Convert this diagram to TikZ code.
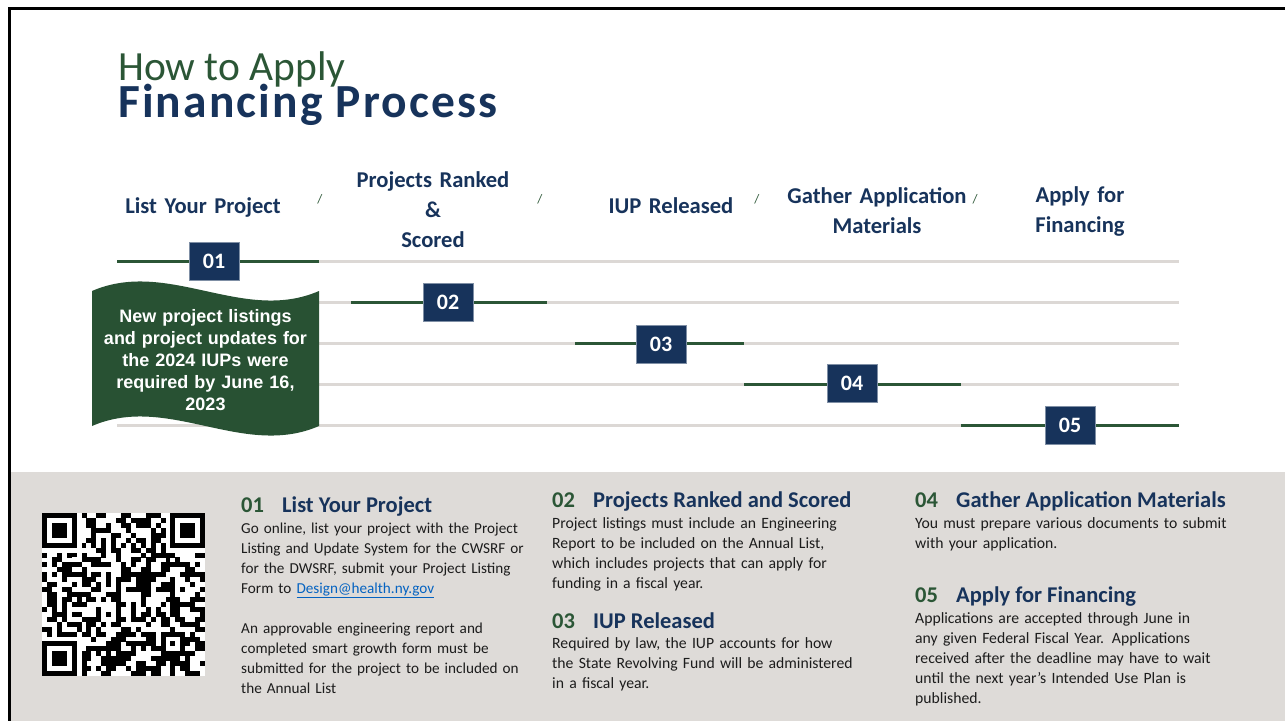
\documentclass[tikz,border=0pt]{standalone}
\usepackage{fontspec}
\setmainfont{Carlito}
\newfontfamily\arialfont{Liberation Sans}
\newfontfamily\titlefont[LetterSpace=4.5]{Carlito}
\definecolor{NavyClr}{HTML}{17335B}
\definecolor{GreenClr}{HTML}{2B5636}
\definecolor{WaveClr}{HTML}{285133}
\definecolor{PanelClr}{HTML}{DEDBD8}
\definecolor{RuleClr}{HTML}{DCD8D5}
\definecolor{LinkClr}{HTML}{0563C1}
\definecolor{BodyClr}{HTML}{1C1C1C}

\tikzset{
  steplabel/.style={inner sep=0pt, text=NavyClr, align=center, text width=230pt,
    font=\bfseries\fontsize{22.6}{30}\selectfont},
  stepbox/.style={fill=NavyClr, draw=NavyClr!55!white, line width=0.6pt, text=white,
    minimum width=50pt, minimum height=38pt, inner sep=0pt,
    font=\bfseries\fontsize{22}{22}\selectfont},
  stepline/.style={GreenClr, line width=3pt},
  rule/.style={RuleClr, line width=3pt},
  slash/.style={inner sep=0pt, text=GreenClr, font=\fontsize{13}{13}\selectfont},
  infohead/.style={inner sep=0pt, anchor=base west, text=NavyClr,
    font=\bfseries\fontsize{22.5}{22.5}\selectfont},
  infotext/.style={inner sep=0pt, anchor=base west, text=BodyClr, align=left,
    text width=340pt, font=\fontsize{15.7}{20}\selectfont}
}
\newcommand{\stepno}[1]{\makebox[41pt][l]{\textcolor{GreenClr}{#1}}}

\begin{document}
\begin{tikzpicture}[x=1pt,y=-1pt]
\useasboundingbox (0,0) rectangle (1285,721);
\fill[white] (0,0) rectangle (1285,721);
\fill[PanelClr] (10,472) rectangle (1285,721);
\draw[black, line width=2.4pt] (1285,8.5) -- (9.5,8.5) -- (9.5,721);

% title
\node[inner sep=0pt, anchor=base west, text=GreenClr, font=\fontsize{41.5}{41.5}\selectfont]
  (howto) at (118,80) {How to Apply};
\node[inner sep=0pt, anchor=base west, text=NavyClr, font=\titlefont\bfseries\fontsize{47.5}{47.5}\selectfont]
  (title) at (118,117) {Financing Process};

% step headings
\node[steplabel, anchor=base] (l1) at (203,213) {List Your Project};
\node[steplabel, anchor=base] (l2) at (433,187) {Projects Ranked\\\&\\Scored};
\node[steplabel, anchor=base] (l3) at (671,213) {IUP Released};
\node[steplabel, anchor=base] (l4) at (877,203) {Gather Application\\Materials};
\node[steplabel, anchor=base] (l5) at (1080,202) {Apply for\\Financing};
\foreach \n/\x in {1/320,2/540,3/757,4/975}
  \node[slash] (sl\n) at (\x,199) {/};

% timeline rows
\foreach \r/\y/\xa/\xb in {1/261/117/319,2/302/351/547,3/343/575/744,4/384/744/961,5/425/961/1179}{
  \coordinate (r\r w) at (117,\y);
  \coordinate (r\r e) at (1179,\y);
  \coordinate (g\r w) at (\xa,\y);
  \coordinate (g\r e) at (\xb,\y);
}
\foreach \r in {1,...,5}{
  \draw[rule] (r\r w) -- (r\r e);
  \draw[stepline] (g\r w) -- (g\r e);
}
\node[stepbox] (b1) at (214,261.5) {01};
\node[stepbox] (b2) at (448,302.5) {02};
\node[stepbox] (b3) at (661,344) {03};
\node[stepbox] (b4) at (852,383.5) {04};
\node[stepbox] (b5) at (1070,425.5) {05};

% deadline banner
\fill[WaveClr] (92,291) .. controls (168,258) and (243,324) .. (319,291)
  -- (319,426) .. controls (243,459) and (168,393) .. (92,426) -- cycle;
\node[inner sep=0pt, anchor=base, text=white, align=center, text width=225pt,
  font=\arialfont\bfseries\fontsize{18}{22}\selectfont] (note) at (205.5,322)
  {New project listings\\and project updates for\\the 2024 IUPs were\\required by June 16,\\2023};

% qr code
\pgfmathsetseed{4242}
\def\qrm{4.94}
\fill[white] (42,513) rectangle (205,676);
\foreach \i in {0,...,32}{
  \foreach \j in {0,...,32}{
    \pgfmathtruncatemacro\qrres{(\i<8 && \j<8) || (\i>24 && \j<8) || (\i<8 && \j>24) || (\i>23 && \i<29 && \j>23 && \j<29) || \i==6 || \j==6}
    \pgfmathrandominteger\qrbit{0}{1}
    \ifnum\qrres=0 \ifnum\qrbit=1
      \fill[black] (42+\i*\qrm,513+\j*\qrm) rectangle ++(\qrm+0.05,\qrm+0.05);
    \fi\fi
  }
}
\foreach \fx/\fy in {0/0,26/0,0/26}{
  \fill[black] (42+\fx*\qrm,513+\fy*\qrm) rectangle ++(7*\qrm,7*\qrm);
  \fill[white] (42+\fx*\qrm+\qrm,513+\fy*\qrm+\qrm) rectangle ++(5*\qrm,5*\qrm);
  \fill[black] (42+\fx*\qrm+2*\qrm,513+\fy*\qrm+2*\qrm) rectangle ++(3*\qrm,3*\qrm);
}
\fill[black] (42+24*\qrm,513+24*\qrm) rectangle ++(5*\qrm,5*\qrm);
\fill[white] (42+25*\qrm,513+25*\qrm) rectangle ++(3*\qrm,3*\qrm);
\fill[black] (42+26*\qrm,513+26*\qrm) rectangle ++(\qrm,\qrm);
\foreach \k in {8,10,...,24}{
  \fill[black] (42+\k*\qrm,513+6*\qrm) rectangle ++(\qrm,\qrm);
  \fill[black] (42+6*\qrm,513+\k*\qrm) rectangle ++(\qrm,\qrm);
}

% step details
\node[infohead] (h1) at (241,512) {\stepno{01}List Your Project};
\node[infotext, font=\fontsize{15.2}{20}\selectfont] (t1) at (241,533) {Go online, list your project with the Project\\Listing and Update System for the CWSRF or\\for the DWSRF, submit your Project Listing\\Form to \textcolor{LinkClr}{\underline{Design@health.ny.gov}}};
\node[infotext, font=\fontsize{15.2}{20}\selectfont] (t1b) at (241,633) {An approvable engineering report and\\completed smart growth form must be\\submitted for the project to be included on\\the Annual List};

\node[infohead] (h2) at (552,507) {\stepno{02}Projects Ranked and Scored};
\node[infotext] (t2) at (552,528) {Project listings must include an Engineering\\Report to be included on the Annual List,\\which includes projects that can apply for\\funding in a fiscal year.};
\node[infohead] (h3) at (552,628) {\stepno{03}IUP Released};
\node[infotext] (t3) at (552,648) {Required by law, the IUP accounts for how\\the State Revolving Fund will be administered\\in a fiscal year.};

\node[infohead] (h4) at (915,507) {\stepno{04}Gather Application Materials};
\node[infotext] (t4) at (915,528) {You must prepare various documents to submit\\with your application.};
\node[infohead] (h5) at (915,602) {\stepno{05}Apply for Financing};
\node[infotext] (t5) at (915,623) {Applications are accepted through June in\\any given Federal Fiscal Year. Applications\\received after the deadline may have to wait\\until the next year’s Intended Use Plan is\\published.};
\end{tikzpicture}
\end{document}
